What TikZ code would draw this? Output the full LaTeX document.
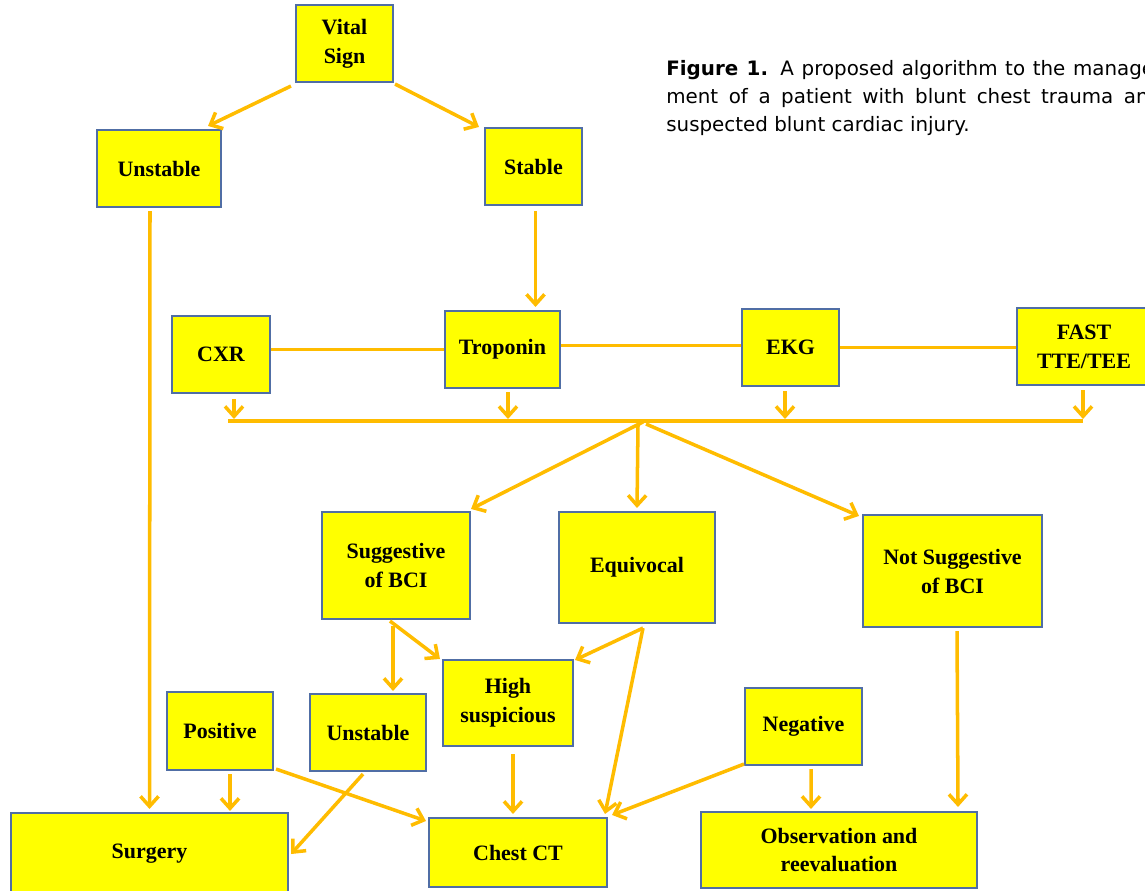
\documentclass[tikz,border=0pt]{standalone}
\usepackage{fontspec}
\setmainfont{Liberation Serif}
\newfontfamily\capfont{DejaVu Sans}
\usetikzlibrary{arrows.meta,calc}
\definecolor{boxfill}{RGB}{255,255,0}
\definecolor{boxline}{RGB}{80,110,165}
\definecolor{flow}{RGB}{255,188,0}
\tikzstyle{block} = [draw=boxline, fill=boxfill, rectangle, line width=1.2pt,
    align=center, inner sep=2pt, font=\bfseries\fontsize{12.5}{16.5}\selectfont]
\tikzstyle{wire} = [draw=flow, line width=2pt]
\tikzstyle{arrowline} = [wire, -{Straight Barb[length=2mm,width=3.6mm]}]
\tikzstyle{caption} = [anchor=north west, inner sep=0pt, text width=9.9cm, align=justify,
    font=\capfont\fontsize{11.3}{15.9}\selectfont]

\begin{document}
\begin{tikzpicture}[x=0.02cm, y=-0.02cm]
    \clip (0,0) rectangle (1145,890);
    % first row
    \node [block, minimum width=1.94cm, minimum height=1.54cm] (vital) at (344.5,43.5) {Vital\\Sign};
    \node [block, minimum width=2.48cm, minimum height=1.54cm] (unst) at (159,168.5) {Unstable};
    \node [block, minimum width=1.94cm, minimum height=1.54cm] (stable) at (533.5,166.5) {Stable};
    % tests
    \node [block, minimum width=1.96cm, minimum height=1.54cm] (cxr) at (221,354.5) {CXR};
    \node [block, minimum width=2.30cm, minimum height=1.54cm] (trop) at (502.5,349.5) {Troponin};
    \node [block, minimum width=1.94cm, minimum height=1.54cm] (ekg) at (790.5,347.5) {EKG};
    \node [block, minimum width=2.68cm, minimum height=1.54cm] (fast) at (1084,346.5) {FAST\\TTE/TEE};
    \coordinate (busL) at (228,421);
    \coordinate (busR) at (1083,421);
    \coordinate (hub) at (640,421);
    % results
    \node [block, minimum width=2.96cm, minimum height=2.14cm] (sugg) at (396,565.5) {Suggestive\\of BCI};
    \node [block, minimum width=3.12cm, minimum height=2.22cm] (equiv) at (637,567.5) {Equivocal};
    \node [block, minimum width=3.58cm, minimum height=2.24cm] (notsug) at (952.5,571) {Not Suggestive\\of BCI};
    \node [block, minimum width=2.60cm, minimum height=1.72cm] (high) at (508,703) {High\\suspicious};
    \node [block, minimum width=2.32cm, minimum height=1.54cm] (unst2) at (368,732.5) {Unstable};
    \node [block, minimum width=2.12cm, minimum height=1.56cm] (pos) at (220,731) {Positive};
    \node [block, minimum width=2.34cm, minimum height=1.54cm] (neg) at (803.5,726.5) {Negative};
    % outcomes
    \node [block, minimum width=5.54cm, minimum height=1.64cm] (surgery) at (149.5,854) {Surgery};
    \node [block, minimum width=3.56cm, minimum height=1.38cm] (chest) at (518,852.5) {Chest CT};
    \node [block, minimum width=5.52cm, minimum height=1.52cm] (obs) at (839,850) {Observation and\\reevaluation};
    % caption
    \node [caption] (cap) at (666,60) {\textbf{Figure 1.} A proposed algorithm to the manage-\linebreak
        ment of a patient with blunt chest trauma and\linebreak suspected blunt cardiac injury.};

    \draw [arrowline] ($(vital.south west)+(-4,3)$) -- ($(unst.north east)+(-14,-3)$);
    \draw [arrowline] ($(vital.south east)+(1,1)$) -- ($(stable.north west)+(-5,0)$);
    \draw [arrowline] ($(unst.south)+(-9,3)$) -- ($(surgery.north)+(0,-3)$);
    \draw [arrowline] ($(stable.south)+(2,5)$) -- ($(trop.north)+(33,-3)$);
    \draw [wire] (cxr.east |- trop.west) -- (trop.west);
    \draw [wire] ($(trop.east)+(0,-4)$) -- ($(ekg.west)+(0,-2)$);
    \draw [wire] (ekg.east) -- (ekg.east -| fast.west);
    \draw [arrowline] ($(cxr.south)+(13,5)$) coordinate (t) -- ($(t |- hub)+(0,-2)$);
    \draw [arrowline] ($(trop.south)+(5.5,3)$) coordinate (t) -- ($(t |- hub)+(0,-2)$);
    \draw [arrowline] ($(ekg.south)+(-5.5,4)$) coordinate (t) -- ($(t |- hub)+(0,-2)$);
    \draw [arrowline] ($(fast.south)+(-1,4)$) coordinate (t) -- ($(t |- hub)+(0,-2)$);
    \draw [wire] (busL) -- (busR);
    \draw [arrowline] ($(hub)+(3,1)$) -- ($(sugg.north east)+(0,-2)$);
    \draw [arrowline] ($(hub)+(-2,4)$) -- ($(equiv.north)+(0,-3)$);
    \draw [arrowline] ($(hub)+(6,3)$) -- ($(notsug.north west)+(-3,2)$);
    \draw [arrowline] ($(sugg.south)+(-3,6)$) -- ($(unst2.north)+(25,-2)$);
    \draw [arrowline] ($(sugg.south)+(-6,1)$) -- ($(high.north west)+(-2,0)$);
    \draw [arrowline] ($(equiv.south)+(6,4)$) -- ($(high.north east)+(1,1)$);
    \draw [arrowline] ($(equiv.south)+(6,4)$) -- ($(chest.north east)+(-3,-3)$);
    \draw [arrowline] ($(high.south)+(5,7)$) -- ($(chest.north)+(-5,-3)$);
    \draw [arrowline] ($(pos.south)+(10,3)$) -- ($(surgery.north)+(80.5,-1)$);
    \draw [arrowline] ($(pos.south east)+(2,-2)$) -- ($(chest.north west)+(-2,4)$);
    \draw [arrowline] ($(unst2.south)+(-5,2)$) -- ($(surgery.east)+(2,0)$);
    \draw [arrowline] ($(neg.south west)+(0,-2)$) -- ($(chest.north east)+(4,-2)$);
    \draw [arrowline] ($(neg.south)+(7.5,3)$) -- ($(obs.north)+(-28,-2)$);
    \draw [arrowline] ($(notsug.south)+(4.5,3)$) -- ($(obs.north east)+(-20,-4)$);
\end{tikzpicture}
\end{document}
